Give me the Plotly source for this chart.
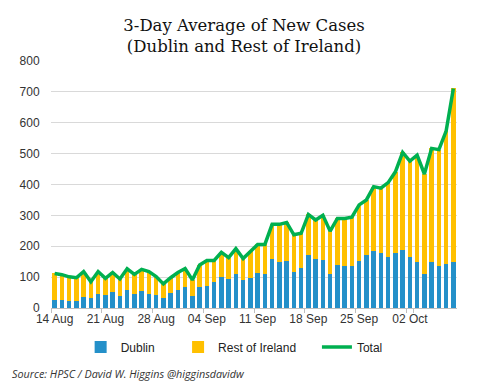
import plotly.graph_objects as go
import datetime as dt

start = dt.date(2020, 8, 14)
dates = [(start + dt.timedelta(days=i)).strftime("%d %b") for i in range(56)]

dublin = [26, 26, 23, 23, 36, 32, 45, 42, 52, 39, 58, 45, 55, 45,
          42, 32, 49, 58, 68, 39, 68, 71, 84, 99, 94, 110, 91, 97,
          113, 110, 159, 149, 152, 117, 130, 172, 159, 155, 110, 139, 136, 136,
          152, 172, 185, 178, 165, 178, 188, 165, 149, 110, 149, 136, 142, 149]
rest = [86, 82, 78, 75, 82, 53, 73, 54, 63, 55, 69, 64, 70, 73,
        60, 46, 49, 57, 60, 52, 71, 83, 70, 81, 69, 82, 69, 87,
        93, 96, 112, 122, 125, 120, 112, 131, 126, 145, 139, 151, 154, 158,
        182, 178, 208, 210, 241, 263, 316, 311, 346, 324, 368, 377, 431, 562]
total = [d + r for d, r in zip(dublin, rest)]

tick_labels = dates[::7]

fig = go.Figure()
fig.add_trace(go.Bar(x=dates, y=dublin, name="Dublin", marker_color="#2490C9",
                     marker_line_width=0))
fig.add_trace(go.Bar(x=dates, y=rest, name="Rest of Ireland", marker_color="#FFC000",
                     marker_line_width=0, legend="legend2"))
fig.add_trace(go.Scatter(x=dates, y=total, name="Total", mode="lines",
                         line=dict(color="#00B050", width=3.5), legend="legend3"))

leg_common = dict(orientation="h", y=-0.158, yanchor="middle", xanchor="left",
                  font=dict(size=12, color="#222222"), bgcolor="rgba(0,0,0,0)")

fig.update_layout(
    width=472, height=376,
    barmode="stack", bargap=0.4,
    plot_bgcolor="white", paper_bgcolor="white",
    margin=dict(l=39, r=23, t=53, b=76),
    showlegend=True,
    title=dict(text="3-Day Average of New Cases<br>(Dublin and Rest of Ireland)",
               x=0.5, xanchor="center", y=0.94, yanchor="top",
               font=dict(family="DejaVu Serif", size=16.5, color="#111111")),
    font=dict(family="Liberation Sans", size=12, color="#333333"),
    legend=dict(x=0.073, **leg_common),
    legend2=dict(x=0.313, **leg_common),
    legend3=dict(x=0.655, **leg_common),
    xaxis=dict(type="category", tickmode="array", tickvals=tick_labels,
               ticktext=tick_labels, tickson="boundaries", ticks="outside",
               ticklen=4, tickcolor="#bfbfbf", showline=True, linecolor="#bfbfbf",
               showgrid=False, tickangle=0, tickfont=dict(size=12, color="#333333")),
    yaxis=dict(range=[0, 800], dtick=100, showgrid=True, gridcolor="#d9d9d9",
               zeroline=False, showline=False, ticks="outside", ticklen=8,
               tickcolor="rgba(0,0,0,0)", tickfont=dict(size=12, color="#333333")),
    annotations=[dict(text="Source: HPSC / David W. Higgins @higginsdavidw",
                      xref="paper", yref="paper", x=-0.102, xanchor="left",
                      y=-0.267, yanchor="middle", showarrow=False,
                      font=dict(family="Open Sans", size=10.8, color="#333333",
                                style="italic"))],
)

fig.write_html("out.html")
